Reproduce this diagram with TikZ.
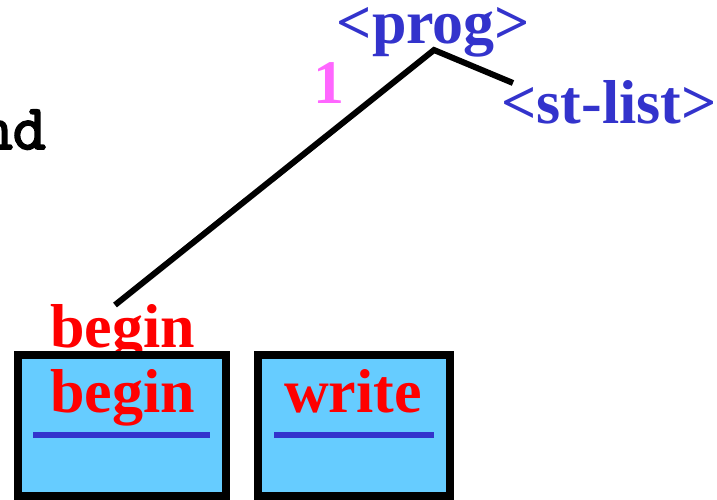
\documentclass[tikz,border=0pt]{standalone}
\usepackage{fontspec}
\setmainfont{Liberation Serif}
\newfontfamily\crfont[FakeBold=3]{Latin Modern Mono}
\definecolor{ntblue}{HTML}{3333CC}
\definecolor{tred}{HTML}{FF0000}
\definecolor{lpink}{HTML}{FF66FF}
\definecolor{boxfill}{HTML}{66CCFF}
\tikzset{
  big/.style={font=\bfseries\fontsize{62}{62}\selectfont, inner sep=0pt},
  nterm/.style={big, text=ntblue, anchor=base},
  term/.style={big, text=tred, anchor=base},
  tokbox/.style={draw=black, line width=8pt, fill=boxfill},
  edge/.style={draw=black, line width=6pt},
  uline/.style={draw=ntblue, line width=6pt}
}
\begin{document}
\begin{tikzpicture}[x=1pt,y=-1pt]
\useasboundingbox (0,0) rectangle (717,499);
% cut-off mono text
\node[font=\crfont\fontsize{64}{64}\selectfont, inner sep=0pt, anchor=base east] (nd) at (46,149) {nd};
% tree
\node[nterm, text height=40pt] (prog) at (433.5,43) {<prog>};
\node[nterm] (stlist) at (609,123) {<st-list>};
\node[big, text=lpink, anchor=base] (one) at (329,103) {1};
\coordinate (apex) at (434,50);
\coordinate (rightend) at (513,83);
\coordinate (leftend) at (115,305);
\draw[edge] (leftend) -- (apex) -- (rightend);
\node[term] (beginlbl) at (122.5,347) {begin};
% boxes
\path[tokbox] (18,355) rectangle (226,496);
\path[tokbox] (258,355) rectangle (450,496);
\node[term] (begintok) at (122.5,412) {begin};
\node[term] (writetok) at (353,412) {write};
\coordinate (u1a) at (33,435);
\coordinate (u1b) at (210,435);
\coordinate (u2a) at (274,435);
\coordinate (u2b) at (434,435);
\draw[uline] (u1a) -- (u1b);
\draw[uline] (u2a) -- (u2b);
\end{tikzpicture}
\end{document}
